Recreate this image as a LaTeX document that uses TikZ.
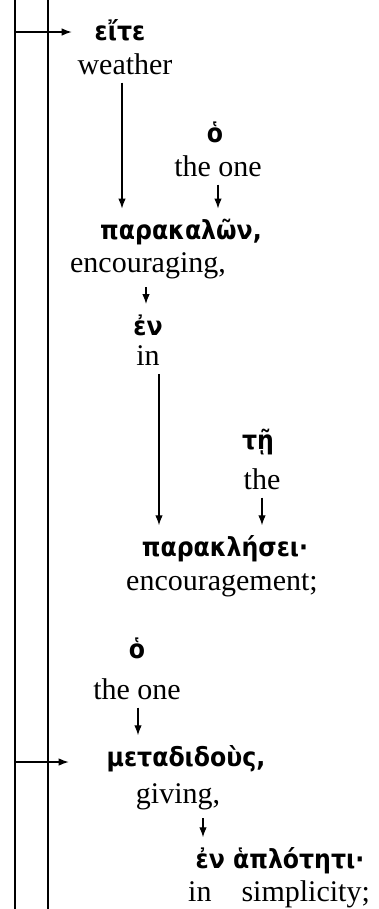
\documentclass[tikz,border=0pt]{standalone}
\usepackage{fontspec}
\setmainfont{Liberation Serif}
\newfontfamily\griego{DejaVu Sans Condensed}
\usetikzlibrary{arrows.meta, positioning}

\begin{document}
\begin{tikzpicture}[x=0.4pt,y=-0.4pt,
    gr/.style={inner sep=1pt, font=\griego\bfseries\fontsize{10.5}{12}\selectfont},
    en/.style={inner sep=1pt, font=\fontsize{12}{14}\selectfont},
    flecha/.style={-{Latex[length=4pt,width=3pt]}, line width=0.5pt, shorten <=2pt, shorten >=3pt}]
    \useasboundingbox (0,0) rectangle (379,909);
    % Líneas verticales
    \draw[line width=0.8pt] (15,0) -- (15,909);
    \draw[line width=0.8pt] (48,0) -- (48,909);
    % Palabras griegas y su traducción
    \node[gr] (eite) at (120,30) {εἴτε};
    \node[en] (weather) at (125,64) {weather};
    \node[gr] (ho1) at (215,132) {ὁ};
    \node[en] (theone1) at (218,166) {the one};
    \node[gr] (parakalon) at (181,232) {παρακαλῶν,};
    \node[en] (encouraging) at (148,266) {encouraging,};
    \node[gr] (en1) at (148,325) {ἐν};
    \node[en] (in1) at (148,356) {in};
    \node[gr] (te) at (258,442) {τῇ};
    \node[en] (the2) at (262,479) {the};
    \node[gr] (paraklesei) at (225,549) {παρακλήσει·};
    \node[en] (encouragement) at (222,585) {encouragement;};
    \node[gr] (ho2) at (137,648) {ὁ};
    \node[en] (theone2) at (137,689) {the one};
    \node[gr] (metadidous) at (186,759) {μεταδιδοὺς,};
    \node[en] (giving) at (178,797) {giving,};
    \node[gr] (haplotes) at (280,861) {ἐν ἁπλότητι·};
    \node[en] (simplicity) at (279,894) {in\quad simplicity;};
    % Flechas desde la línea
    \coordinate (c1) at (15,32);
    \coordinate (c2) at (15,762);
    \draw[flecha, shorten <=0pt, shorten >=8pt] (c1) -- (c1 -| eite.west);
    \draw[flecha, shorten <=0pt, shorten >=14pt] (c2) -- (c2 -| metadidous.west);
    % Flechas entre palabras
    \draw[flecha] ([xshift=-1.2pt]weather.south) -- ([xshift=-1.2pt]weather.south |- parakalon.north);
    \draw[flecha] (theone1.south) -- (theone1.south |- parakalon.north);
    \draw[flecha] ([xshift=-0.8pt]encouraging.south) -- ([xshift=-0.8pt]encouraging.south |- en1.north);
    \draw[flecha] ([xshift=4.4pt]in1.south) -- ([xshift=4.4pt]in1.south |- paraklesei.north);
    \draw[flecha] (the2.south) -- (the2.south |- paraklesei.north);
    \draw[flecha] ([xshift=0.4pt]theone2.south) -- ([xshift=0.4pt]theone2.south |- metadidous.north);
    \draw[flecha] ([xshift=10pt]giving.south) -- ([xshift=10pt]giving.south |- haplotes.north);
\end{tikzpicture}
\end{document}
